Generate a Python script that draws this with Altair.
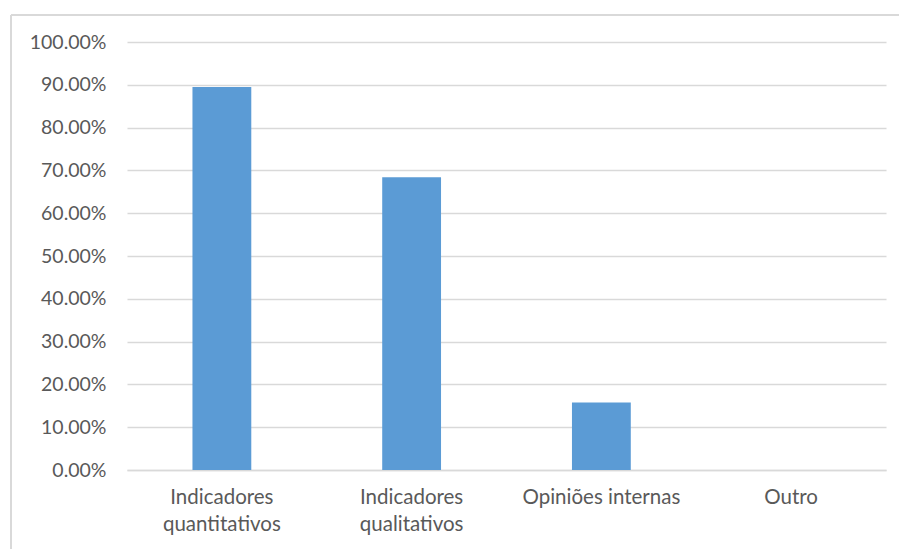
import altair as alt
import pandas as pd

categories = ["Indicadores quantitativos", "Indicadores qualitativos", "Opiniões internas", "Outro"]
values = [0.8947, 0.6842, 0.1579, 0.0]

df = pd.DataFrame({"categoria": categories, "valor": values})

W, H = 759, 428
FONT = "Lato"

bars = alt.Chart(df).mark_bar(color="#5b9bd5").encode(
    x=alt.X("categoria:N", sort=categories, title=None,
            scale=alt.Scale(paddingInner=0.69, paddingOuter=0.345),
            axis=alt.Axis(labelAngle=0, labelFont=FONT, labelFontSize=20.5, labelColor="#595959",
                          labelPadding=17, labelLineHeight=27, ticks=False, domain=True,
                          domainColor="#d9d9d9", domainWidth=1.5, grid=False,
                          labelExpr="datum.label == 'Opiniões internas' ? datum.label : split(datum.label, ' ')")),
    y=alt.Y("valor:Q", title=None,
            scale=alt.Scale(domain=[0, 1]),
            axis=alt.Axis(format=".2%", values=[i / 10 for i in range(11)], labelFont=FONT,
                          labelFontSize=19.5, labelColor="#595959", labelPadding=21, ticks=False,
                          domain=False, grid=True, gridColor="#d9d9d9", gridWidth=1.5)),
)

border_top = alt.Chart(df).mark_rule(color="#d9d9d9", strokeWidth=1.5).encode(
    x=alt.value(-116), x2=alt.value(W + 20), y=alt.value(-27))
border_left = alt.Chart(df).mark_rule(color="#d9d9d9", strokeWidth=1.5).encode(
    x=alt.value(-116), y=alt.value(-27), y2=alt.value(H + 90))

chart = alt.layer(border_top, border_left, bars).properties(
    width=W, height=H,
    autosize=alt.AutoSizeParams(type="none"),
    padding={"left": 127, "top": 42, "right": 13, "bottom": 79},
).configure_view(stroke=None)

chart.save("out.html", embed_options={"renderer": "svg", "actions": False})
